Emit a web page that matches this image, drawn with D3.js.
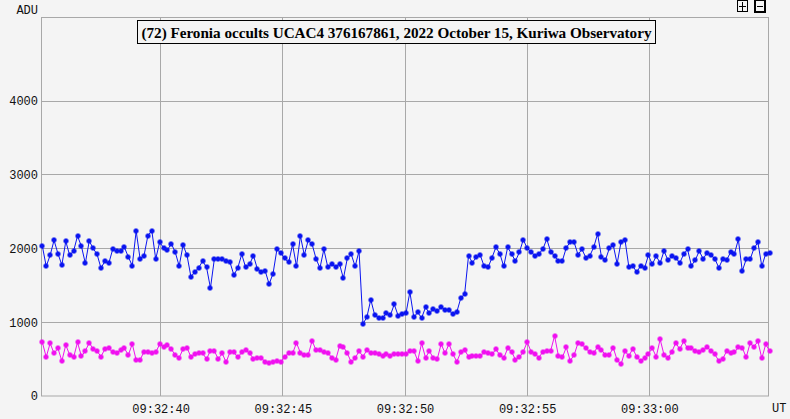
<!DOCTYPE html>
<html><head><meta charset="utf-8">
<script src="https://cdn.jsdelivr.net/npm/d3@7"></script>
<style>html,body{margin:0;padding:0;background:#f4f4f4;} svg{display:block}</style>
</head><body><svg id="c" width="790" height="419"></svg>
<script>
const title = "(72) Feronia occults UCAC4 376167861, 2022 October 15, Kuriwa Observatory";
const yLabel = "ADU";
const xLabel = "UT";
const yTicks = [0, 1000, 2000, 3000, 4000];
// video frames: first frame 09:32:35.16 UT, one frame per 0.16 s
const startSec = 35.16;
const frameSec = 0.16;
const targetADU = [
2034,1758,1908,2111,1930,1776,2097,1908,1966,2169,2030,1799,2102,2002,1921,1735,1826,1799,1989,1966,
1962,2016,1885,1767,2237,1862,1903,2174,2241,1858,2084,2011,1980,2065,1948,1763,2047,1908,1618,1681,
1740,1830,1744,1464,1858,1853,1858,1830,1811,1640,1740,1921,1744,1785,1903,1722,1686,1695,1519,1658,
1989,1939,1866,1811,2056,1758,2169,1912,2111,2056,1862,1735,1989,1749,1785,1753,1790,1595,1866,1921,
1758,1966,976,1071,1306,1098,1062,1062,1121,1093,1243,1089,1116,1120,1410,1067,1134,1058,1202,1121,
1180,1148,1207,1171,1162,1107,1139,1324,1383,1903,1808,1885,1908,1758,1745,1876,2016,1930,1758,2016,
1926,1830,1948,2120,2002,1957,1898,1930,1989,2129,1957,1898,1835,1835,2011,2088,2084,1917,1989,1876,
1900,2016,2197,1885,1840,2002,2047,1794,2088,2120,1749,1767,1677,1767,1731,1908,1785,1898,1803,1966,
1840,1894,1876,1803,1921,1989,1767,1844,1966,1858,1944,1912,1858,1740,1853,1844,1948,1926,2124,1695,
1853,1853,2002,2084,1758,1930,1939];
const comparisonADU = [
728,529,714,579,646,475,691,556,524,728,538,610,723,637,610,533,637,646,592,588,
619,646,556,705,488,488,601,601,588,592,701,669,691,633,556,520,637,655,529,565,
588,579,502,615,610,502,579,457,597,592,524,592,624,579,506,520,520,457,447,466,
475,466,524,588,579,719,588,556,556,750,619,619,592,588,520,484,678,669,579,461,
511,610,533,624,583,588,565,538,570,547,574,570,570,565,610,615,479,714,520,610,
511,502,705,579,705,570,466,592,624,533,542,538,542,592,588,565,633,556,511,646,
601,493,524,601,732,601,574,520,601,615,615,814,542,524,660,479,556,719,701,646,
597,579,669,624,556,556,655,488,429,610,542,642,533,475,520,574,646,533,768,556,
511,601,723,633,741,646,655,610,601,624,660,615,565,475,502,610,579,592,660,655,
524,714,669,741,511,701,610];

const base = Date.UTC(2022, 9, 15, 9, 32, 0);
const toDate = s => new Date(base + s * 1000);
const target = targetADU.map((v, i) => ({t: toDate(startSec + i * frameSec), v}));
const comp = comparisonADU.map((v, i) => ({t: toDate(startSec + i * frameSec), v}));

const L = 41, R = 769, T = 17, B = 396;
const x = d3.scaleUtc().domain([toDate(35.106), toDate(64.894)]).range([L, R]);
const y = d3.scaleLinear().domain([0, 5139]).range([B, T]);

const svg = d3.select("#c");
svg.append("rect").attr("width", 790).attr("height", 419).attr("fill", "#f4f4f4");

const gridColor = "#a8a8a8";
const crisp = v => Math.floor(v) + 0.5;
const xTicks = x.ticks(d3.utcSecond.every(5));

// gridlines
svg.append("g").selectAll("line").data(yTicks.filter(d => d > 0)).join("line")
  .attr("x1", L).attr("x2", R).attr("y1", d => crisp(y(d))).attr("y2", d => crisp(y(d)))
  .attr("stroke", gridColor);
svg.append("g").selectAll("line").data(xTicks).join("line")
  .attr("x1", d => crisp(x(d))).attr("x2", d => crisp(x(d))).attr("y1", T).attr("y2", B)
  .attr("stroke", gridColor);
// frame
svg.append("rect").attr("x", L + 0.5).attr("y", T + 0.5).attr("width", R - L - 1).attr("height", B - T - 0.5)
  .attr("fill", "none").attr("stroke", gridColor);

const font = "'Liberation Mono', monospace";
// axes (labels)
const ya = svg.append("g").attr("transform", `translate(${L},0)`)
  .call(d3.axisLeft(y).tickValues(yTicks).tickSize(0).tickPadding(3).tickFormat(d3.format("d")));
const xa = svg.append("g").attr("transform", `translate(0,${B})`)
  .call(d3.axisBottom(x).tickValues(xTicks).tickSize(0).tickPadding(8).tickFormat(d3.utcFormat("%H:%M:%S")));
[ya, xa].forEach(g => {
  g.select(".domain").remove();
  g.selectAll("text").attr("font-family", font).attr("font-size", 12).attr("fill", "#111");
});
svg.append("text").attr("x", 38).attr("y", 14).attr("text-anchor", "end")
  .attr("font-family", font).attr("font-size", 12).attr("fill", "#111").text(yLabel);
svg.append("text").attr("x", 772).attr("y", 412).attr("font-family", font).attr("font-size", 12)
  .attr("fill", "#111").text(xLabel);

// series
const line = d3.line().x(d => x(d.t)).y(d => y(d.v));
const marker = "M-1.5,-2.5h3v1h1v3h-1v1h-3v-1h-1v-3h1z";
function series(data, color) {
  const g = svg.append("g");
  g.append("path").datum(data).attr("d", line).attr("fill", "none").attr("stroke", color).attr("stroke-width", 1);
  g.selectAll("path.m").data(data).join("path").attr("class", "m").attr("d", marker)
    .attr("transform", d => `translate(${Math.round(x(d.t))},${Math.round(y(d.v))})`).attr("fill", color);
}
series(comp, "#f010f0");
series(target, "#0a14f0");

// title box
const tg = svg.append("g");
tg.append("rect").attr("x", 137.5).attr("y", 20.5).attr("width", 518).attr("height", 23)
  .attr("fill", "#f4f4f4").attr("stroke", "#000");
tg.append("text").attr("x", 396.5).attr("y", 37.5).attr("text-anchor", "middle")
  .attr("font-family", "'Liberation Serif', 'Times New Roman', serif").attr("font-weight", "bold")
  .attr("font-size", 15.2).attr("textLength", 510).attr("lengthAdjust", "spacing")
  .attr("fill", "#000").text(title);

// zoom buttons
const bg = svg.append("g");
bg.append("rect").attr("x", 737.5).attr("y", 0.5).attr("width", 10).attr("height", 11).attr("fill", "#f4f4f4").attr("stroke", "#000");
bg.append("path").attr("d", "M739,6.5h7M742.5,2v9").attr("stroke", "#000");
bg.append("rect").attr("x", 755).attr("y", 0).attr("width", 10).attr("height", 12).attr("fill", "#f4f4f4").attr("stroke", "#000").attr("stroke-width", 2);
bg.append("path").attr("d", "M757,6.5h6").attr("stroke", "#000");
</script></body></html>
